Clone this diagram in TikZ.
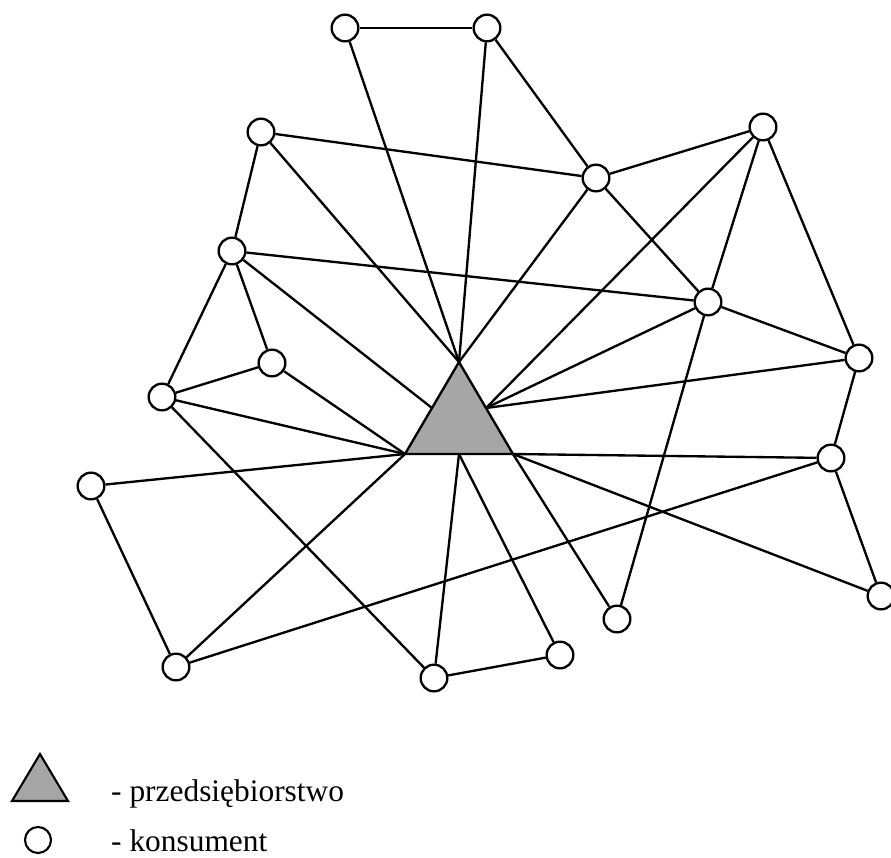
\documentclass[tikz,border=0pt]{standalone}
\usepackage{fontspec}
\setmainfont{Liberation Serif}
\usetikzlibrary{calc}
\definecolor{firmgray}{HTML}{A6A6A6}
\tikzset{
  konsument/.style={circle,draw=black,fill=white,line width=2pt,minimum size=0.8cm,inner sep=0pt},
  link/.style={line width=2pt},
  legendtext/.style={anchor=base west,inner sep=0pt,font=\fontsize{26.8}{30}\selectfont}
}

\begin{document}
\begin{tikzpicture}[x=0.03cm,y=-0.03cm] %Coordinates given in pixels of the 891x857 picture
\useasboundingbox (0,0) rectangle (891,857); %Fixes the page size
\clip (0,0) rectangle (891,857); %Crops the node cut by the right edge
%Enterprise (triangle) corners and edge midpoints
\coordinate (tA) at (459,362);
\coordinate (tL) at (405,454);
\coordinate (tR) at (513,454);
\coordinate (mL) at ($(tA)!0.5!(tL)$);
\coordinate (mR) at ($(tA)!0.5!(tR)$);
\coordinate (mB) at ($(tL)!0.5!(tR)$);
%Consumers
\node[konsument] (k1) at (345,28) {};
\node[konsument] (k2) at (487,28) {};
\node[konsument] (k3) at (261,132) {};
\node[konsument] (k4) at (596,178) {};
\node[konsument] (k5) at (763,127) {};
\node[konsument] (k6) at (232,251) {};
\node[konsument] (k7) at (708,302) {};
\node[konsument] (k8) at (272,363) {};
\node[konsument] (k9) at (162,397) {};
\node[konsument] (k10) at (859,358) {};
\node[konsument] (k11) at (831,458) {};
\node[konsument] (k12) at (91,486) {};
\node[konsument] (k13) at (881,596) {};
\node[konsument] (k14) at (617,619) {};
\node[konsument] (k15) at (176,667) {};
\node[konsument] (k16) at (434,678) {};
\node[konsument] (k17) at (560,655) {};
%Links between consumers
\draw[link] (k1) -- (k2);
\draw[link] (k2) -- (k4);
\draw[link] (k3) -- (k4);
\draw[link] (k3) -- (k6);
\draw[link] (k4) -- (k5);
\draw[link] (k4) -- (k7);
\draw[link] (k5) -- (k7);
\draw[link] (k5) -- (k10);
\draw[link] (k6) -- (k7);
\draw[link] (k6) -- (k8);
\draw[link] (k6) -- (k9);
\draw[link] (k7) -- (k10);
\draw[link] (k7) -- (k14);
\draw[link] (k10) -- (k11);
\draw[link] (k11) -- (k13);
\draw[link] (k11) -- (k15);
\draw[link] (k8) -- (k9);
\draw[link] (k9) -- (k16);
\draw[link] (k12) -- (k15);
\draw[link] (k16) -- (k17);
%Links to the enterprise
\draw[link] (k1) -- (tA);
\draw[link] (k2) -- (tA);
\draw[link] (k3) -- (tA);
\draw[link] (k4) -- (tA);
\draw[link] (k6) -- (mL);
\draw[link] (k5) -- (mR);
\draw[link] (k7) -- (mR);
\draw[link] (k10) -- (mR);
\draw[link] (k8) -- (tL);
\draw[link] (k9) -- (tL);
\draw[link] (k12) -- (tL);
\draw[link] (k15) -- (tL);
\draw[link] (k16) -- (mB);
\draw[link] (k17) -- (mB);
\draw[link] (k14) -- (tR);
\draw[link] (k11) -- (tR);
\draw[link] (k13) -- (tR);
\filldraw[fill=firmgray,draw=black,line width=2pt,line join=miter] (tA) -- (tL) -- (tR) -- cycle; %Enterprise
%Legend
\filldraw[fill=firmgray,draw=black,line width=1.8pt] (12,801) -- (40,754) -- (68,801) -- cycle;
\node[konsument,line width=1.8pt,minimum size=0.78cm] (lk) at (38,840) {};
\node[legendtext] (lt1) at (111,801) {- przedsiębiorstwo};
\node[legendtext] (lt2) at (111,851) {- konsument};
\end{tikzpicture}
\end{document}
